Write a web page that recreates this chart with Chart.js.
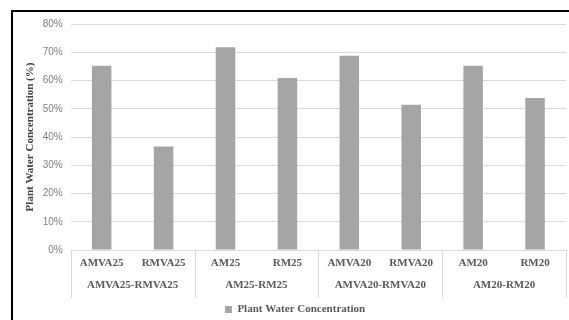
<!DOCTYPE html>
<html>
<head>
<meta charset="utf-8">
<script src="https://cdn.jsdelivr.net/npm/chart.js@4/dist/chart.umd.min.js"></script>
<style>
  html, body { margin: 0; padding: 0; background: #fff; }
  #wrap { position: relative; width: 569px; height: 320px; overflow: hidden; }
  #c { position: absolute; left: 0; top: 0; }
  #frame {
    position: absolute; left: 11px; top: 10px; width: 570px; height: 320px;
    border-top: 2px solid #000; border-left: 2px solid #000; pointer-events: none;
  }
</style>
</head>
<body>
<div id="wrap">
  <canvas id="c" width="569" height="320"></canvas>
  <div id="frame"></div>
</div>
<script>
// Treatments (inner axis row) and their pairings (outer axis row)
const categories = ['AMVA25', 'RMVA25', 'AM25', 'RM25', 'AMVA20', 'RMVA20', 'AM20', 'RM20'];
const groups = ['AMVA25-RMVA25', 'AM25-RM25', 'AMVA20-RMVA20', 'AM20-RM20'];
const waterConcentration = [65.2, 36.6, 71.8, 60.9, 68.8, 51.4, 65.2, 53.8];
const yTicks = [0, 10, 20, 30, 40, 50, 60, 70, 80];

const serifBold = { family: '"Liberation Serif", "Times New Roman", serif', size: 11, weight: 'bold' };

// Vertical dividers between the paired groups, spanning both label rows
const groupDividers = {
  id: 'groupDividers',
  afterDraw(chart) {
    const x = chart.scales.x, x2 = chart.scales.x2;
    const per = categories.length / groups.length;
    const step = (x.getPixelForValue(1) - x.getPixelForValue(0));
    const ctx = chart.ctx;
    ctx.save();
    ctx.strokeStyle = '#d9d9d9';
    ctx.lineWidth = 1;
    for (let g = 0; g <= groups.length; g++) {
      const px = Math.round(x.getPixelForValue(g * per) - step / 2) + 0.5;
      ctx.beginPath();
      ctx.moveTo(px, x.top);
      ctx.lineTo(px, x2.bottom);
      ctx.stroke();
    }
    ctx.restore();
  }
};

new Chart(document.getElementById('c'), {
  type: 'bar',
  data: {
    labels: categories,
    datasets: [{
      label: 'Plant Water Concentration',
      data: waterConcentration,
      backgroundColor: '#a5a5a5',
      borderWidth: 0,
      categoryPercentage: 1,
      barPercentage: 0.315,
      xAxisID: 'x',
      yAxisID: 'y'
    }]
  },
  options: {
    responsive: false,
    animation: false,
    events: [],
    layout: { padding: { left: 24, right: 3, top: 24, bottom: -5 } },
    plugins: {
      tooltip: { enabled: false },
      legend: {
        position: 'bottom',
        labels: {
          boxWidth: 7, boxHeight: 7, padding: 6,
          color: '#595959', font: serifBold
        }
      }
    },
    scales: {
      x: {
        type: 'category',
        offset: true,
        grid: { display: false, drawTicks: false },
        border: { display: true, color: '#d9d9d9' },
        ticks: { color: '#595959', font: serifBold, padding: 7, maxRotation: 0, autoSkip: false },
        afterFit(scale) { scale.height = 20; }
      },
      x2: {
        type: 'category',
        labels: groups,
        position: 'bottom',
        offset: true,
        grid: { display: false, drawTicks: false },
        border: { display: false },
        ticks: { color: '#595959', font: serifBold, padding: 9, maxRotation: 0, autoSkip: false },
        afterFit(scale) { scale.height = 28; }
      },
      y: {
        min: 0,
        max: 80,
        afterBuildTicks(scale) { scale.ticks = yTicks.map(v => ({ value: v })); },
        grid: { color: '#d9d9d9', drawTicks: false },
        border: { display: false },
        ticks: {
          color: '#7f7f7f',
          padding: 8,
          font: { family: '"Liberation Sans", Arial, sans-serif', size: 10 },
          callback: v => v + '%'
        },
        title: {
          display: true,
          text: 'Plant Water Concentration (%)',
          color: '#404040',
          font: serifBold,
          padding: 0
        },
        afterFit(scale) { scale.width = 46.7; }
      }
    }
  },
  plugins: [groupDividers]
});
</script>
</body>
</html>
